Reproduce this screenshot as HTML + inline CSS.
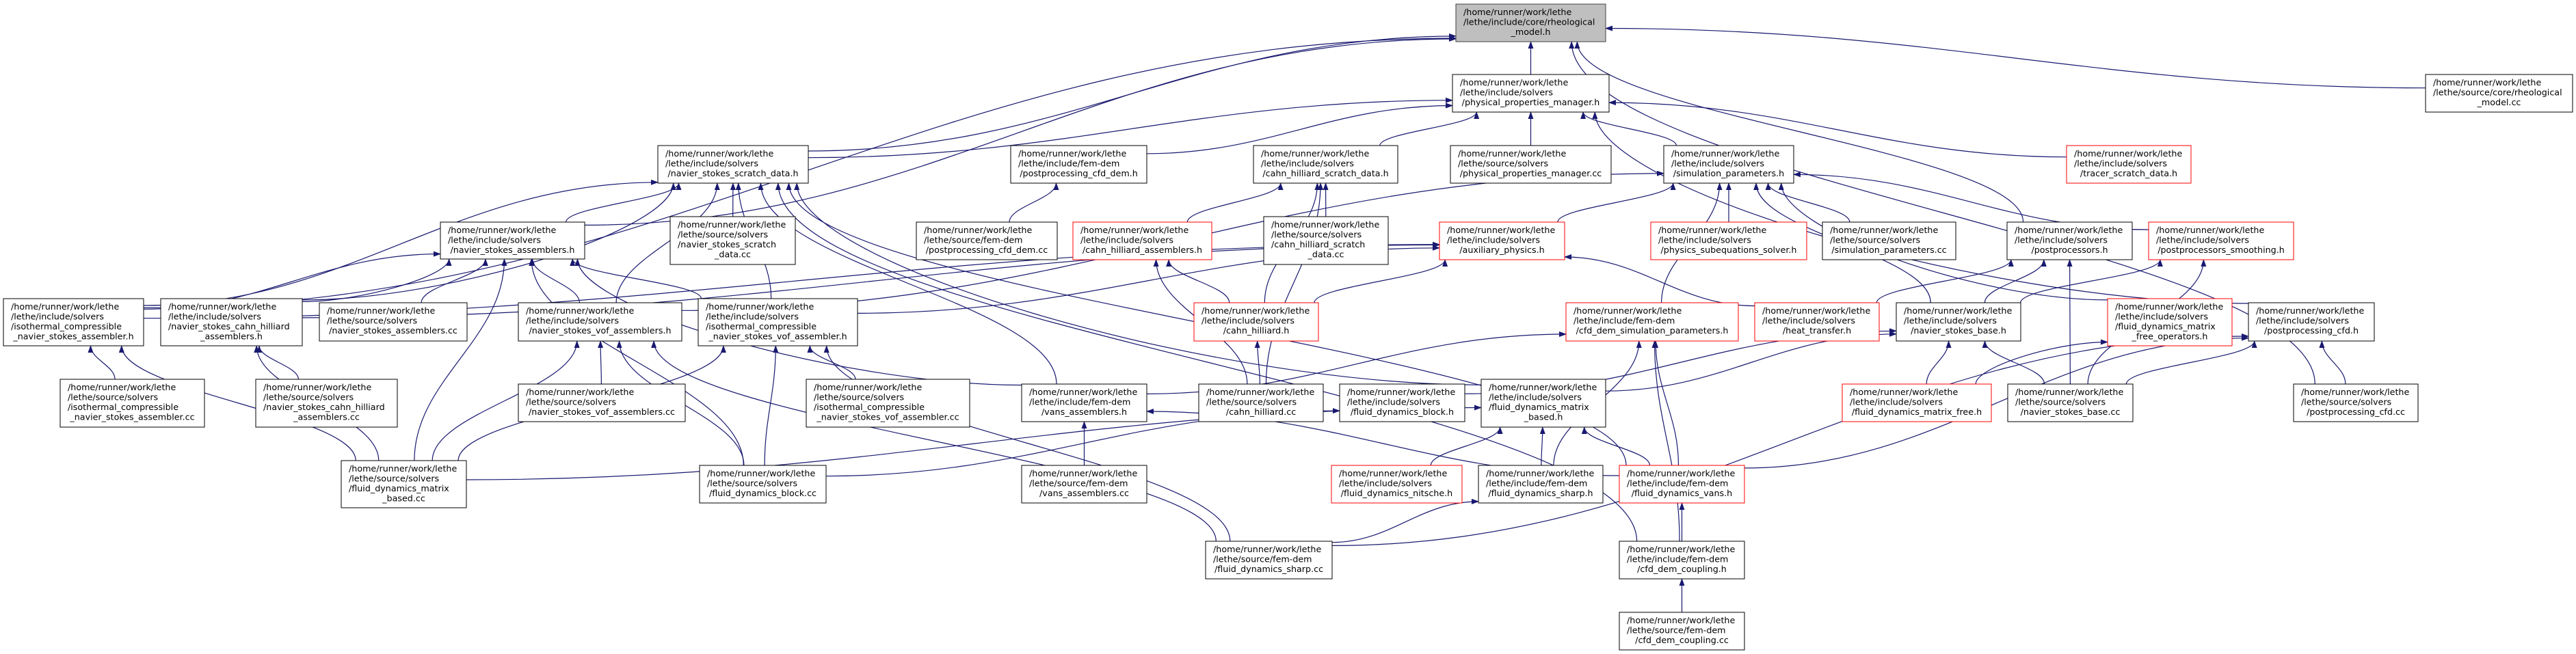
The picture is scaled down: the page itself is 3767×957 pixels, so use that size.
<!DOCTYPE html>
<html><head><meta charset="utf-8">
<style>
html,body{margin:0;padding:0;background:#fff;}
svg{display:block;}
text{font-family:"DejaVu Sans","Liberation Sans",sans-serif;font-size:12.7px;fill:#000;}
rect{stroke-width:1;}
</style></head>
<body>
<svg id="g" width="3767" height="957" viewBox="0 0 3767 957" xmlns="http://www.w3.org/2000/svg">
<defs><marker id="ah" markerWidth="11" markerHeight="8" refX="10" refY="4" orient="auto" markerUnits="userSpaceOnUse"><path d="M0,0 L11,4 L0,8 z" fill="#191970"/></marker></defs>
<g id="edges" fill="none" stroke="#191970" stroke-width="1.2"></g>
<g id="nodes">
<!-- n0 -->
<rect x="2129" y="6" width="219" height="55" fill="#bfbfbf" stroke="#404040"/>
<text x="2140" y="22">/home/runner/work/lethe</text><text x="2140" y="36.5">/lethe/include/core/rheological</text><text x="2238.5" y="51" text-anchor="middle">_model.h</text>
<!-- n1 -->
<rect x="2124" y="109" width="229" height="55" fill="#fff" stroke="#000"/>
<text x="2135" y="125">/home/runner/work/lethe</text><text x="2135" y="139.5">/lethe/include/solvers</text><text x="2238.5" y="154" text-anchor="middle">/physical_properties_manager.h</text>
<!-- n2 -->
<rect x="3547" y="109" width="215" height="55" fill="#fff" stroke="#000"/>
<text x="3558" y="125">/home/runner/work/lethe</text><text x="3558" y="139.5">/lethe/source/core/rheological</text><text x="3654.5" y="154" text-anchor="middle">_model.cc</text>
<!-- n3 -->
<rect x="962" y="213" width="220" height="55" fill="#fff" stroke="#000"/>
<text x="973" y="229">/home/runner/work/lethe</text><text x="973" y="243.5">/lethe/include/solvers</text><text x="1072" y="258" text-anchor="middle">/navier_stokes_scratch_data.h</text>
<!-- n4 -->
<rect x="1478" y="213" width="199" height="55" fill="#fff" stroke="#000"/>
<text x="1489" y="229">/home/runner/work/lethe</text><text x="1489" y="243.5">/lethe/include/fem-dem</text><text x="1577.5" y="258" text-anchor="middle">/postprocessing_cfd_dem.h</text>
<!-- n5 -->
<rect x="1833" y="213" width="211" height="55" fill="#fff" stroke="#000"/>
<text x="1844" y="229">/home/runner/work/lethe</text><text x="1844" y="243.5">/lethe/include/solvers</text><text x="1938.5" y="258" text-anchor="middle">/cahn_hilliard_scratch_data.h</text>
<!-- n6 -->
<rect x="2121" y="213" width="235" height="55" fill="#fff" stroke="#000"/>
<text x="2132" y="229">/home/runner/work/lethe</text><text x="2132" y="243.5">/lethe/source/solvers</text><text x="2238.5" y="258" text-anchor="middle">/physical_properties_manager.cc</text>
<!-- n7 -->
<rect x="2433" y="213" width="190" height="55" fill="#fff" stroke="#000"/>
<text x="2444" y="229">/home/runner/work/lethe</text><text x="2444" y="243.5">/lethe/include/solvers</text><text x="2528" y="258" text-anchor="middle">/simulation_parameters.h</text>
<!-- n8 -->
<rect x="3022" y="213" width="182" height="55" fill="#fff" stroke="#ff0000"/>
<text x="3033" y="229">/home/runner/work/lethe</text><text x="3033" y="243.5">/lethe/include/solvers</text><text x="3113" y="258" text-anchor="middle">/tracer_scratch_data.h</text>
<!-- n9 -->
<rect x="644" y="325" width="211" height="54" fill="#fff" stroke="#000"/>
<text x="655" y="341">/home/runner/work/lethe</text><text x="655" y="355.5">/lethe/include/solvers</text><text x="749.5" y="370" text-anchor="middle">/navier_stokes_assemblers.h</text>
<!-- n10 -->
<rect x="980" y="317" width="183" height="70" fill="#fff" stroke="#000"/>
<text x="991" y="333">/home/runner/work/lethe</text><text x="991" y="347.5">/lethe/source/solvers</text><text x="991" y="362">/navier_stokes_scratch</text><text x="1071.5" y="376.5" text-anchor="middle">_data.cc</text>
<!-- n11 -->
<rect x="1340" y="325" width="206" height="55" fill="#fff" stroke="#000"/>
<text x="1351" y="341">/home/runner/work/lethe</text><text x="1351" y="355.5">/lethe/source/fem-dem</text><text x="1443" y="370" text-anchor="middle">/postprocessing_cfd_dem.cc</text>
<!-- n12 -->
<rect x="1569" y="325" width="203" height="55" fill="#fff" stroke="#ff0000"/>
<text x="1580" y="341">/home/runner/work/lethe</text><text x="1580" y="355.5">/lethe/include/solvers</text><text x="1670.5" y="370" text-anchor="middle">/cahn_hilliard_assemblers.h</text>
<!-- n13 -->
<rect x="1848" y="317" width="182" height="70" fill="#fff" stroke="#000"/>
<text x="1859" y="333">/home/runner/work/lethe</text><text x="1859" y="347.5">/lethe/source/solvers</text><text x="1859" y="362">/cahn_hilliard_scratch</text><text x="1939" y="376.5" text-anchor="middle">_data.cc</text>
<!-- n14 -->
<rect x="2105" y="325" width="183" height="55" fill="#fff" stroke="#ff0000"/>
<text x="2116" y="341">/home/runner/work/lethe</text><text x="2116" y="355.5">/lethe/include/solvers</text><text x="2196.5" y="370" text-anchor="middle">/auxiliary_physics.h</text>
<!-- n15 -->
<rect x="2414" y="325" width="228" height="55" fill="#fff" stroke="#ff0000"/>
<text x="2425" y="341">/home/runner/work/lethe</text><text x="2425" y="355.5">/lethe/include/solvers</text><text x="2528" y="370" text-anchor="middle">/physics_subequations_solver.h</text>
<!-- n16 -->
<rect x="2665" y="325" width="195" height="55" fill="#fff" stroke="#000"/>
<text x="2676" y="341">/home/runner/work/lethe</text><text x="2676" y="355.5">/lethe/source/solvers</text><text x="2762.5" y="370" text-anchor="middle">/simulation_parameters.cc</text>
<!-- n17 -->
<rect x="2935" y="325" width="183" height="55" fill="#fff" stroke="#000"/>
<text x="2946" y="341">/home/runner/work/lethe</text><text x="2946" y="355.5">/lethe/include/solvers</text><text x="3026.5" y="370" text-anchor="middle">/postprocessors.h</text>
<!-- n18 -->
<rect x="3142" y="325" width="212" height="55" fill="#fff" stroke="#ff0000"/>
<text x="3153" y="341">/home/runner/work/lethe</text><text x="3153" y="355.5">/lethe/include/solvers</text><text x="3248" y="370" text-anchor="middle">/postprocessors_smoothing.h</text>
<!-- n19 -->
<rect x="5" y="437" width="205" height="69" fill="#fff" stroke="#000"/>
<text x="16" y="453">/home/runner/work/lethe</text><text x="16" y="467.5">/lethe/include/solvers</text><text x="16" y="482">/isothermal_compressible</text><text x="107.5" y="496.5" text-anchor="middle">_navier_stokes_assembler.h</text>
<!-- n20 -->
<rect x="235" y="437" width="207" height="69" fill="#fff" stroke="#000"/>
<text x="246" y="453">/home/runner/work/lethe</text><text x="246" y="467.5">/lethe/include/solvers</text><text x="246" y="482">/navier_stokes_cahn_hilliard</text><text x="338.5" y="496.5" text-anchor="middle">_assemblers.h</text>
<!-- n21 -->
<rect x="467" y="443" width="216" height="56" fill="#fff" stroke="#000"/>
<text x="478" y="459">/home/runner/work/lethe</text><text x="478" y="473.5">/lethe/source/solvers</text><text x="575" y="488" text-anchor="middle">/navier_stokes_assemblers.cc</text>
<!-- n22 -->
<rect x="758" y="443" width="239" height="56" fill="#fff" stroke="#000"/>
<text x="769" y="459">/home/runner/work/lethe</text><text x="769" y="473.5">/lethe/include/solvers</text><text x="877.5" y="488" text-anchor="middle">/navier_stokes_vof_assemblers.h</text>
<!-- n23 -->
<rect x="1021" y="437" width="233" height="69" fill="#fff" stroke="#000"/>
<text x="1032" y="453">/home/runner/work/lethe</text><text x="1032" y="467.5">/lethe/include/solvers</text><text x="1032" y="482">/isothermal_compressible</text><text x="1137.5" y="496.5" text-anchor="middle">_navier_stokes_vof_assembler.h</text>
<!-- n24 -->
<rect x="1746" y="443" width="182" height="56" fill="#fff" stroke="#ff0000"/>
<text x="1757" y="459">/home/runner/work/lethe</text><text x="1757" y="473.5">/lethe/include/solvers</text><text x="1837" y="488" text-anchor="middle">/cahn_hilliard.h</text>
<!-- n25 -->
<rect x="2290" y="443" width="252" height="56" fill="#fff" stroke="#ff0000"/>
<text x="2301" y="459">/home/runner/work/lethe</text><text x="2301" y="473.5">/lethe/include/fem-dem</text><text x="2416" y="488" text-anchor="middle">/cfd_dem_simulation_parameters.h</text>
<!-- n26 -->
<rect x="2566" y="443" width="182" height="56" fill="#fff" stroke="#ff0000"/>
<text x="2577" y="459">/home/runner/work/lethe</text><text x="2577" y="473.5">/lethe/include/solvers</text><text x="2657" y="488" text-anchor="middle">/heat_transfer.h</text>
<!-- n27 -->
<rect x="2773" y="443" width="182" height="56" fill="#fff" stroke="#000"/>
<text x="2784" y="459">/home/runner/work/lethe</text><text x="2784" y="473.5">/lethe/include/solvers</text><text x="2864" y="488" text-anchor="middle">/navier_stokes_base.h</text>
<!-- n28 -->
<rect x="3082" y="437" width="182" height="69" fill="#fff" stroke="#ff0000"/>
<text x="3093" y="453">/home/runner/work/lethe</text><text x="3093" y="467.5">/lethe/include/solvers</text><text x="3093" y="482">/fluid_dynamics_matrix</text><text x="3173" y="496.5" text-anchor="middle">_free_operators.h</text>
<!-- n29 -->
<rect x="3288" y="443" width="184" height="56" fill="#fff" stroke="#000"/>
<text x="3299" y="459">/home/runner/work/lethe</text><text x="3299" y="473.5">/lethe/include/solvers</text><text x="3380" y="488" text-anchor="middle">/postprocessing_cfd.h</text>
<!-- n30 -->
<rect x="88" y="555" width="211" height="70" fill="#fff" stroke="#000"/>
<text x="99" y="571">/home/runner/work/lethe</text><text x="99" y="585.5">/lethe/source/solvers</text><text x="99" y="600">/isothermal_compressible</text><text x="193.5" y="614.5" text-anchor="middle">_navier_stokes_assembler.cc</text>
<!-- n31 -->
<rect x="374" y="555" width="207" height="70" fill="#fff" stroke="#000"/>
<text x="385" y="571">/home/runner/work/lethe</text><text x="385" y="585.5">/lethe/source/solvers</text><text x="385" y="600">/navier_stokes_cahn_hilliard</text><text x="477.5" y="614.5" text-anchor="middle">_assemblers.cc</text>
<!-- n32 -->
<rect x="758" y="562" width="244" height="55" fill="#fff" stroke="#000"/>
<text x="769" y="578">/home/runner/work/lethe</text><text x="769" y="592.5">/lethe/source/solvers</text><text x="880" y="607" text-anchor="middle">/navier_stokes_vof_assemblers.cc</text>
<!-- n33 -->
<rect x="1179" y="555" width="239" height="70" fill="#fff" stroke="#000"/>
<text x="1190" y="571">/home/runner/work/lethe</text><text x="1190" y="585.5">/lethe/source/solvers</text><text x="1190" y="600">/isothermal_compressible</text><text x="1298.5" y="614.5" text-anchor="middle">_navier_stokes_vof_assembler.cc</text>
<!-- n34 -->
<rect x="1494" y="562" width="183" height="55" fill="#fff" stroke="#000"/>
<text x="1505" y="578">/home/runner/work/lethe</text><text x="1505" y="592.5">/lethe/include/fem-dem</text><text x="1585.5" y="607" text-anchor="middle">/vans_assemblers.h</text>
<!-- n35 -->
<rect x="1753" y="562" width="182" height="55" fill="#fff" stroke="#000"/>
<text x="1764" y="578">/home/runner/work/lethe</text><text x="1764" y="592.5">/lethe/source/solvers</text><text x="1844" y="607" text-anchor="middle">/cahn_hilliard.cc</text>
<!-- n36 -->
<rect x="1959" y="562" width="183" height="55" fill="#fff" stroke="#000"/>
<text x="1970" y="578">/home/runner/work/lethe</text><text x="1970" y="592.5">/lethe/include/solvers</text><text x="2050.5" y="607" text-anchor="middle">/fluid_dynamics_block.h</text>
<!-- n37 -->
<rect x="2166" y="555" width="182" height="70" fill="#fff" stroke="#000"/>
<text x="2177" y="571">/home/runner/work/lethe</text><text x="2177" y="585.5">/lethe/include/solvers</text><text x="2177" y="600">/fluid_dynamics_matrix</text><text x="2257" y="614.5" text-anchor="middle">_based.h</text>
<!-- n38 -->
<rect x="2694" y="562" width="218" height="55" fill="#fff" stroke="#ff0000"/>
<text x="2705" y="578">/home/runner/work/lethe</text><text x="2705" y="592.5">/lethe/include/solvers</text><text x="2803" y="607" text-anchor="middle">/fluid_dynamics_matrix_free.h</text>
<!-- n39 -->
<rect x="2936" y="562" width="183" height="55" fill="#fff" stroke="#000"/>
<text x="2947" y="578">/home/runner/work/lethe</text><text x="2947" y="592.5">/lethe/source/solvers</text><text x="3027.5" y="607" text-anchor="middle">/navier_stokes_base.cc</text>
<!-- n40 -->
<rect x="3354" y="562" width="182" height="55" fill="#fff" stroke="#000"/>
<text x="3365" y="578">/home/runner/work/lethe</text><text x="3365" y="592.5">/lethe/source/solvers</text><text x="3445" y="607" text-anchor="middle">/postprocessing_cfd.cc</text>
<!-- n41 -->
<rect x="499" y="674" width="183" height="69" fill="#fff" stroke="#000"/>
<text x="510" y="690">/home/runner/work/lethe</text><text x="510" y="704.5">/lethe/source/solvers</text><text x="510" y="719">/fluid_dynamics_matrix</text><text x="590.5" y="733.5" text-anchor="middle">_based.cc</text>
<!-- n42 -->
<rect x="1023" y="681" width="185" height="55" fill="#fff" stroke="#000"/>
<text x="1034" y="697">/home/runner/work/lethe</text><text x="1034" y="711.5">/lethe/source/solvers</text><text x="1115.5" y="726" text-anchor="middle">/fluid_dynamics_block.cc</text>
<!-- n43 -->
<rect x="1494" y="681" width="183" height="55" fill="#fff" stroke="#000"/>
<text x="1505" y="697">/home/runner/work/lethe</text><text x="1505" y="711.5">/lethe/source/fem-dem</text><text x="1585.5" y="726" text-anchor="middle">/vans_assemblers.cc</text>
<!-- n44 -->
<rect x="1947" y="681" width="191" height="55" fill="#fff" stroke="#ff0000"/>
<text x="1958" y="697">/home/runner/work/lethe</text><text x="1958" y="711.5">/lethe/include/solvers</text><text x="2042.5" y="726" text-anchor="middle">/fluid_dynamics_nitsche.h</text>
<!-- n45 -->
<rect x="2162" y="681" width="182" height="55" fill="#fff" stroke="#000"/>
<text x="2173" y="697">/home/runner/work/lethe</text><text x="2173" y="711.5">/lethe/include/fem-dem</text><text x="2253" y="726" text-anchor="middle">/fluid_dynamics_sharp.h</text>
<!-- n46 -->
<rect x="2368" y="681" width="183" height="55" fill="#fff" stroke="#ff0000"/>
<text x="2379" y="697">/home/runner/work/lethe</text><text x="2379" y="711.5">/lethe/include/fem-dem</text><text x="2459.5" y="726" text-anchor="middle">/fluid_dynamics_vans.h</text>
<!-- n47 -->
<rect x="1763" y="792" width="185" height="55" fill="#fff" stroke="#000"/>
<text x="1774" y="808">/home/runner/work/lethe</text><text x="1774" y="822.5">/lethe/source/fem-dem</text><text x="1855.5" y="837" text-anchor="middle">/fluid_dynamics_sharp.cc</text>
<!-- n48 -->
<rect x="2368" y="792" width="183" height="55" fill="#fff" stroke="#000"/>
<text x="2379" y="808">/home/runner/work/lethe</text><text x="2379" y="822.5">/lethe/include/fem-dem</text><text x="2459.5" y="837" text-anchor="middle">/cfd_dem_coupling.h</text>
<!-- n49 -->
<rect x="2368" y="896" width="183" height="55" fill="#fff" stroke="#000"/>
<text x="2379" y="912">/home/runner/work/lethe</text><text x="2379" y="926.5">/lethe/source/fem-dem</text><text x="2459.5" y="941" text-anchor="middle">/cfd_dem_coupling.cc</text>
</g>
</svg>
<script>
(function(){
var B=[[2129,6,2348,61],[2124,109,2353,164],[3547,109,3762,164],[962,213,1182,268],[1478,213,1677,268],[1833,213,2044,268],[2121,213,2356,268],[2433,213,2623,268],[3022,213,3204,268],[644,325,855,379],[980,317,1163,387],[1340,325,1546,380],[1569,325,1772,380],[1848,317,2030,387],[2105,325,2288,380],[2414,325,2642,380],[2665,325,2860,380],[2935,325,3118,380],[3142,325,3354,380],[5,437,210,506],[235,437,442,506],[467,443,683,499],[758,443,997,499],[1021,437,1254,506],[1746,443,1928,499],[2290,443,2542,499],[2566,443,2748,499],[2773,443,2955,499],[3082,437,3264,506],[3288,443,3472,499],[88,555,299,625],[374,555,581,625],[758,562,1002,617],[1179,555,1418,625],[1494,562,1677,617],[1753,562,1935,617],[1959,562,2142,617],[2166,555,2348,625],[2694,562,2912,617],[2936,562,3119,617],[3354,562,3536,617],[499,674,682,743],[1023,681,1208,736],[1494,681,1677,736],[1947,681,2138,736],[2162,681,2344,736],[2368,681,2551,736],[1763,792,1948,847],[2368,792,2551,847],[2368,896,2551,951]];
var E=[[1,0],[2,0],[3,0],[9,0],[19,0],[17,0],[40,0],
[3,1],[4,1],[5,1],[6,1],[7,1],[8,1],[29,1],
[9,3],[19,3],[20,3],[10,3],[22,3],[23,3],[34,3],[46,3],[48,3],[37,3],
[11,4],[12,5],[24,5],[13,5],[35,5],
[14,7],[25,7],[15,7],[16,7],[27,7],[18,7],[28,7],[22,7],
[21,9],[19,9],[20,9],[22,9],[23,9],[34,9],[41,9],[42,9],
[24,14],[26,14],[19,14],[20,14],[23,14],
[24,12],[35,12],[35,24],
[26,17],[27,17],[39,17],[27,18],[39,18],
[30,19],[41,19],[31,20],[41,20],
[32,22],[41,22],[42,22],[47,22],
[33,23],[41,23],[42,23],[47,23],
[34,25],[45,25],[46,25],[48,25],
[38,27],[39,27],[36,27],[37,27],[38,28],
[39,29],[40,29],[47,29],[46,29],
[43,34],[46,34],[42,36],
[41,37],[44,37],[45,37],[46,37],
[47,45],[48,46],[49,48]];
function pt(b,tx,ty){var cx=(b[0]+b[2])/2,cy=(b[1]+b[3])/2,w=(b[2]-b[0])/2,h=(b[3]-b[1])/2;var dx=tx-cx,dy=ty-cy;var t=Math.min(dx?w/Math.abs(dx):1e9,dy?h/Math.abs(dy):1e9);var side=(dx&&w/Math.abs(dx)<h/Math.abs(dy))?'s':'v';return [cx+dx*t,cy+dy*t,side];}
var g=document.getElementById('edges'),ns='http://www.w3.org/2000/svg';
E.forEach(function(e){var c=B[e[0]],p=B[e[1]];
var ccx=(c[0]+c[2])/2,ccy=(c[1]+c[3])/2,pcx=(p[0]+p[2])/2,pcy=(p[1]+p[3])/2;
var s=pt(c,pcx,pcy),t=pt(p,ccx,ccy);
var dx=t[0]-s[0],dy=t[1]-s[1];var k=Math.abs(dy)*0.4,kx=Math.abs(dx)*0.4;
var c1=s[2]=='v'?[s[0],s[1]+(dy<0?-k:k)]:[s[0]+(dx>0?kx:-kx),s[1]];
var c2=t[2]=='v'?[t[0],t[1]+(dy<0?k:-k)]:[t[0]+(dx>0?-kx:kx),t[1]];
var pa=document.createElementNS(ns,'path');
pa.setAttribute('d','M'+s[0].toFixed(1)+','+s[1].toFixed(1)+' C'+c1[0].toFixed(1)+','+c1[1].toFixed(1)+' '+c2[0].toFixed(1)+','+c2[1].toFixed(1)+' '+t[0].toFixed(1)+','+t[1].toFixed(1));
pa.setAttribute('marker-end','url(#ah)');g.appendChild(pa);});
})();
</script>
</body></html>
